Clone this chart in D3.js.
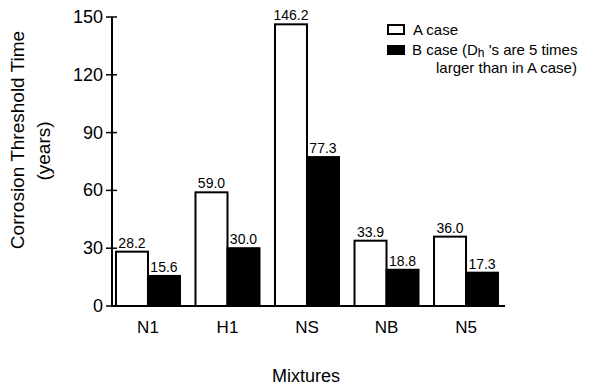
<!DOCTYPE html>
<html><head><meta charset="utf-8">
<script src="https://cdn.jsdelivr.net/npm/d3@7"></script>
<style>body{margin:0;background:#fff}svg{display:block}text{font-family:"Liberation Sans",Arial,sans-serif;fill:#000}</style>
</head><body><svg width="590" height="389"></svg>
<script>
const categories = ["N1","H1","NS","NB","N5"];
const seriesNames = ["A case","B case"];
const aCase = [28.2, 59.0, 146.2, 33.9, 36.0];
const bCase = [15.6, 30.0, 77.3, 18.8, 17.3];
const yTicks = [0,30,60,90,120,150];

const svg = d3.select("svg");
const x0 = 112, x1 = 505, yTop = 17, yBot = 306;
const x = d3.scaleBand().domain(categories).range([x0, 502]).paddingInner(0.195).paddingOuter(0.05);
const xs = d3.scaleBand().domain(seriesNames).range([0, x.bandwidth()]);
const y = d3.scaleLinear().domain([0,150]).range([yBot, yTop]);
const fills = {"A case":"#fff","B case":"#000"};

const data = categories.map((c,i)=>({c, vals:[{s:"A case",v:aCase[i]},{s:"B case",v:bCase[i]}]}));
const g = svg.selectAll("g.grp").data(data).join("g").attr("class","grp")
  .attr("transform",d=>`translate(${x(d.c)},0)`);
g.selectAll("rect").data(d=>d.vals).join("rect")
  .attr("x",d=>xs(d.s)).attr("width",xs.bandwidth())
  .attr("y",d=>y(d.v)).attr("height",d=>yBot-y(d.v))
  .attr("fill",d=>fills[d.s]).attr("stroke","#000").attr("stroke-width",2);
g.selectAll("text").data(d=>d.vals).join("text")
  .attr("x",d=>xs(d.s)+xs.bandwidth()/2).attr("y",d=>y(d.v)-4)
  .attr("text-anchor","middle").style("font-size","14px").text(d=>d.v.toFixed(1));

// axes
svg.append("line").attr("x1",x0).attr("x2",x0).attr("y1",yTop).attr("y2",yBot).attr("stroke","#000").attr("stroke-width",2);
svg.append("line").attr("x1",x0-1).attr("x2",x1).attr("y1",yBot).attr("y2",yBot).attr("stroke","#000").attr("stroke-width",2);
const yt = svg.append("g");
yt.selectAll("line").data(yTicks).join("line").attr("x1",x0-6).attr("x2",x0+5)
  .attr("y1",d=>y(d)).attr("y2",d=>y(d)).attr("stroke","#000").attr("stroke-width",1.5);
yt.selectAll("text").data(yTicks).join("text").attr("x",x0-9).attr("y",d=>y(d)+6)
  .attr("text-anchor","end").style("font-size","18px").text(d=>d);

svg.append("g").selectAll("text").data(categories).join("text")
  .attr("x",d=>x(d)+x.bandwidth()/2).attr("y",333).attr("text-anchor","middle")
  .style("font-size","17px").text(d=>d);

svg.append("text").attr("x",306).attr("y",382).attr("text-anchor","middle").style("font-size","18px").text("Mixtures");
svg.append("text").attr("transform","translate(24,140) rotate(-90)").attr("text-anchor","middle").style("font-size","19px").text("Corrosion Threshold Time");
svg.append("text").attr("transform","translate(50,151) rotate(-90)").attr("text-anchor","middle").style("font-size","19px").text("(years)");

// legend
const lg = svg.append("g");
lg.append("rect").attr("x",388).attr("y",25).attr("width",16).attr("height",9).attr("fill","#fff").attr("stroke","#000").attr("stroke-width",2);
lg.append("text").attr("x",413).attr("y",35).style("font-size","15px").text(seriesNames[0]);
lg.append("rect").attr("x",387).attr("y",45).attr("width",18).attr("height",10).attr("fill","#000");
const t2 = lg.append("text").attr("x",412).attr("y",55).style("font-size","15px");
t2.append("tspan").text("B case (D");
t2.append("tspan").attr("dy",2).style("font-size","12px").text("h");
t2.append("tspan").attr("dy",-2).text(" 's are 5 times");
lg.append("text").attr("x",436).attr("y",73).style("font-size","15px").text("larger than in A case)");
</script></body></html>
